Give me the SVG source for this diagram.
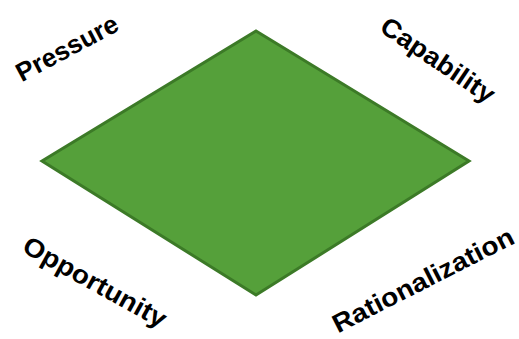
<svg xmlns="http://www.w3.org/2000/svg" width="519" height="339" viewBox="0 0 519 339">
<style>
.lbl{font-family:"Liberation Sans",Arial,sans-serif;font-weight:bold;font-size:26px;fill:#000;text-anchor:middle;dominant-baseline:central}
</style>
<rect width="519" height="339" fill="#fff"/>
<g id="diamond">
<polygon points="256,31 469,161 256,295 42,161" fill="#55A03A" stroke="#3C7A27" stroke-width="3" stroke-linejoin="miter"/>
</g>
<g id="pressure"><text class="lbl" transform="translate(67,48) rotate(-28)" textLength="112" lengthAdjust="spacingAndGlyphs">Pressure</text></g>
<g id="capability"><text class="lbl" transform="translate(438,60) rotate(34)" textLength="132" lengthAdjust="spacingAndGlyphs">Capability</text></g>
<g id="opportunity"><text class="lbl" transform="translate(95,282) rotate(29)" textLength="160" lengthAdjust="spacingAndGlyphs">Opportunity</text></g>
<g id="rationalization"><text class="lbl" transform="translate(423,280) rotate(-27)" textLength="200" lengthAdjust="spacingAndGlyphs">Rationalization</text></g>
</svg>
